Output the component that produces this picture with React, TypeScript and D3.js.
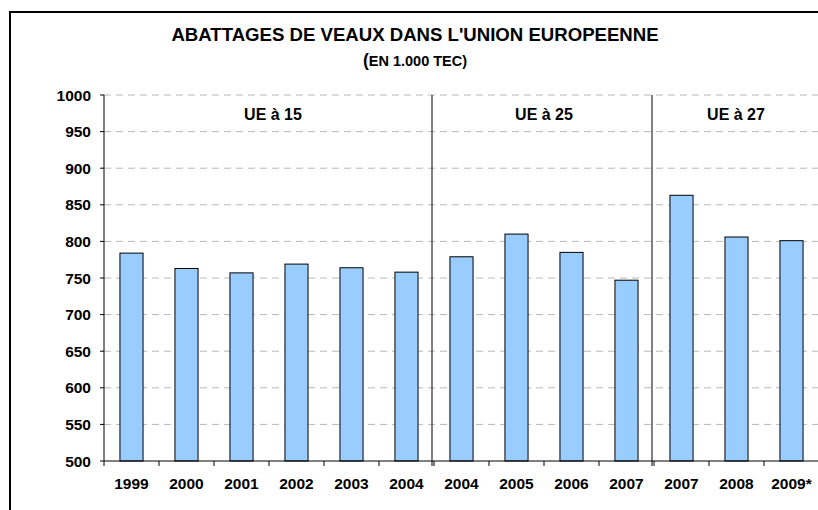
import React from "react";
import * as d3 from "d3";

// categories and values (1.000 TEC)
const years = ["1999", "2000", "2001", "2002", "2003", "2004", "2004", "2005", "2006", "2007", "2007", "2008", "2009*"];
const values = [784, 763, 757, 769, 764, 758, 779, 810, 785, 747, 863, 806, 801];
const groupLabels = ["UE à 15", "UE à 25", "UE à 27"];
const groupSizes = [6, 4, 3];
const yTicks = [500, 550, 600, 650, 700, 750, 800, 850, 900, 950, 1000];

const W = 818;
const H = 510;
const font = "'Liberation Sans', Arial, sans-serif";

export default function App() {
    const left = 104;
    const right = 819;
    const top = 95;
    const bottom = 461;

    const x = d3
        .scaleBand<number>()
        .domain(d3.range(years.length))
        .range([left, right])
        .paddingInner(0.58)
        .paddingOuter(0.29);

    const y = d3.scaleLinear().domain([500, 1000]).range([bottom, top]);

    const step = x.step();
    const boundary = (i: number) => left + i * step;

    // group start indices
    const starts = groupSizes.map((_, g) => d3.sum(groupSizes.slice(0, g)));

    return (
        <svg
            width={W}
            height={H}
            style={{ position: "absolute", left: 0, top: 0, display: "block", background: "#fff" }}
            fontFamily={font}
            fontWeight="bold"
        >
            <rect x={10} y={12} width={830} height={520} fill="none" stroke="#000" strokeWidth={2} />

            <text x={415} y={41} textAnchor="middle" fontSize={18.6} fill="#000">
                ABATTAGES DE VEAUX DANS L'UNION EUROPEENNE
            </text>
            <text x={415} y={66} textAnchor="middle" fontSize={14.5} fill="#000">
                <tspan fontSize={17.5}>(</tspan>EN 1.000 TEC)
            </text>

            {/* gridlines */}
            {yTicks.filter((t) => t > 500).map((t) => (
                <line
                    key={t}
                    x1={left}
                    x2={right}
                    y1={y(t)}
                    y2={y(t)}
                    stroke="#b8b8b8"
                    strokeWidth={1}
                    strokeDasharray="7,5"
                />
            ))}

            {/* bars */}
            {values.map((v, i) => (
                <rect
                    key={i}
                    x={x(i)}
                    y={y(v)}
                    width={x.bandwidth()}
                    height={bottom - y(v)}
                    fill="#99ccff"
                    stroke="#000"
                    strokeWidth={1}
                />
            ))}

            {/* group separators and labels */}
            {starts.map((s, g) => (
                <g key={g}>
                    {g > 0 && (
                        <line
                            x1={boundary(s) - 2}
                            x2={boundary(s) - 2}
                            y1={top}
                            y2={bottom + 5}
                            stroke="#000"
                            strokeWidth={1}
                        />
                    )}
                    <text
                        x={(boundary(s) + Math.min(boundary(s + groupSizes[g]), W)) / 2 + (g === 0 ? 4 : 0)}
                        y={120}
                        textAnchor="middle"
                        fontSize={16}
                        fill="#000"
                    >
                        {groupLabels[g]}
                    </text>
                </g>
            ))}

            {/* y axis */}
            <line x1={left} x2={left} y1={top} y2={bottom} stroke="#000" strokeWidth={1} />
            {yTicks.map((t) => (
                <g key={t}>
                    <line x1={left - 4} x2={left} y1={y(t)} y2={y(t)} stroke="#000" />
                    <text x={91} y={y(t)} dy="0.36em" textAnchor="end" fontSize={15.5} fill="#000">
                        {t}
                    </text>
                </g>
            ))}

            {/* x axis */}
            <line x1={left} x2={right} y1={bottom} y2={bottom} stroke="#000" strokeWidth={1} />
            {d3.range(years.length + 1).map((i) => (
                <line key={i} x1={boundary(i)} x2={boundary(i)} y1={bottom} y2={bottom + 5} stroke="#000" />
            ))}
            {years.map((yr, i) => (
                <text
                    key={i}
                    x={(x(i) ?? 0) + x.bandwidth() / 2}
                    y={489}
                    textAnchor="middle"
                    fontSize={15.5}
                    fill="#000"
                >
                    {yr}
                </text>
            ))}
        </svg>
    );
}
